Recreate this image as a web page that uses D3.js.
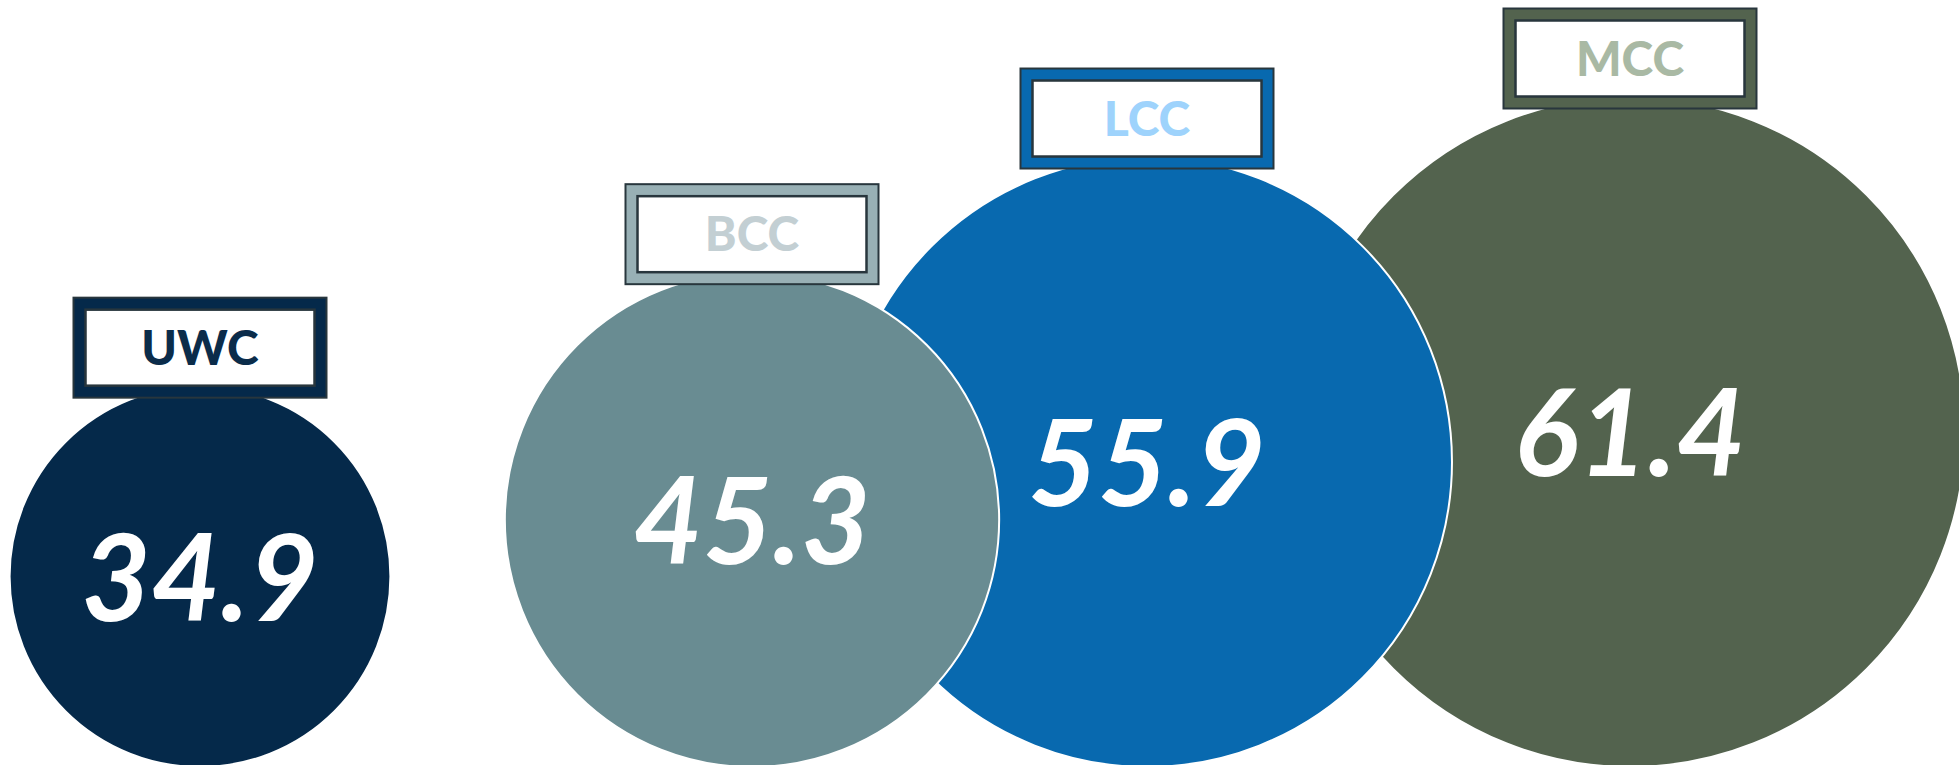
<!DOCTYPE html>
<html>
<head>
<meta charset="utf-8">
<script src="https://cdn.jsdelivr.net/npm/d3@7/dist/d3.min.js"></script>
<style>
  html, body { margin: 0; padding: 0; background: #ffffff; overflow: hidden; }
  svg { display: block; }
</style>
</head>
<body>
<svg id="chart" width="1959" height="765"></svg>
<script>
// ---- data ----
const categories = ["UWC", "BCC", "LCC", "MCC"];
const values = [34.9, 45.3, 55.9, 61.4];
const valueLabels = ["34.9", "45.3", "55.9", "61.4"];

// ---- styles ----
const circleColors = ["#05294a", "#698c92", "#0869af", "#53634e"];
const boxColors = ["#05294a", "#98b0b5", "#0869af", "#53634e"];
const labelColors = ["#0b2c4a", "#c3cfd3", "#9ed3fc", "#a9b9a4"];
const frameStroke = "#28363d";

const W = 1959, H = 765;
const baseline = 767;

const data = categories.map((c, i) => ({
  cat: c, value: values[i], label: valueLabels[i],
  color: circleColors[i], box: boxColors[i], text: labelColors[i], i
}));

// scales
const r = d3.scaleLinear().domain([0, 61.4]).range([0, 335]);
const x = d3.scaleOrdinal().domain(categories).range([200, 752, 1147, 1630]);
const cy = d => baseline - r(d.value);

const svg = d3.select("#chart");

// circles: draw last category first so earlier ones sit on top
const drawOrder = data.slice().reverse();
svg.append("g").selectAll("circle")
  .data(drawOrder)
  .join("circle")
  .attr("cx", d => x(d.cat))
  .attr("cy", d => cy(d))
  .attr("r", d => r(d.value))
  .attr("fill", d => d.color)
  .attr("stroke", "#ffffff")
  .attr("stroke-width", 2);

// value labels
svg.append("g").selectAll("text")
  .data(data)
  .join("text")
  .attr("x", d => x(d.cat))
  .attr("y", d => cy(d) + 44)
  .attr("text-anchor", "middle")
  .attr("fill", "#ffffff")
  .style("font-family", "Lato, 'Open Sans', sans-serif")
  .style("font-weight", 700)
  .style("font-style", "italic")
  .style("font-size", "120px")
  .text(d => d.label);

// category label boxes
const boxW = 253, boxH = 100, inset = 12;
const boxes = svg.append("g").selectAll("g")
  .data(data)
  .join("g")
  .attr("transform", d => {
    const top = cy(d) - r(d.value);
    return `translate(${x(d.cat) - boxW / 2},${top - 38.5 - boxH / 2})`;
  });

boxes.append("rect")
  .attr("width", boxW).attr("height", boxH)
  .attr("fill", d => d.box)
  .attr("stroke", frameStroke)
  .attr("stroke-width", 2);

boxes.append("rect")
  .attr("x", inset).attr("y", inset)
  .attr("width", boxW - 2 * inset).attr("height", boxH - 2 * inset)
  .attr("fill", "#ffffff")
  .attr("stroke", frameStroke)
  .attr("stroke-width", 2.5);

boxes.append("text")
  .attr("x", boxW / 2)
  .attr("y", boxH / 2 + 17)
  .attr("text-anchor", "middle")
  .attr("fill", d => d.text)
  .style("font-family", "Lato, 'Open Sans', sans-serif")
  .style("font-weight", 900)
  .style("font-size", "48px")
  .text(d => d.cat);
</script>
</body>
</html>
